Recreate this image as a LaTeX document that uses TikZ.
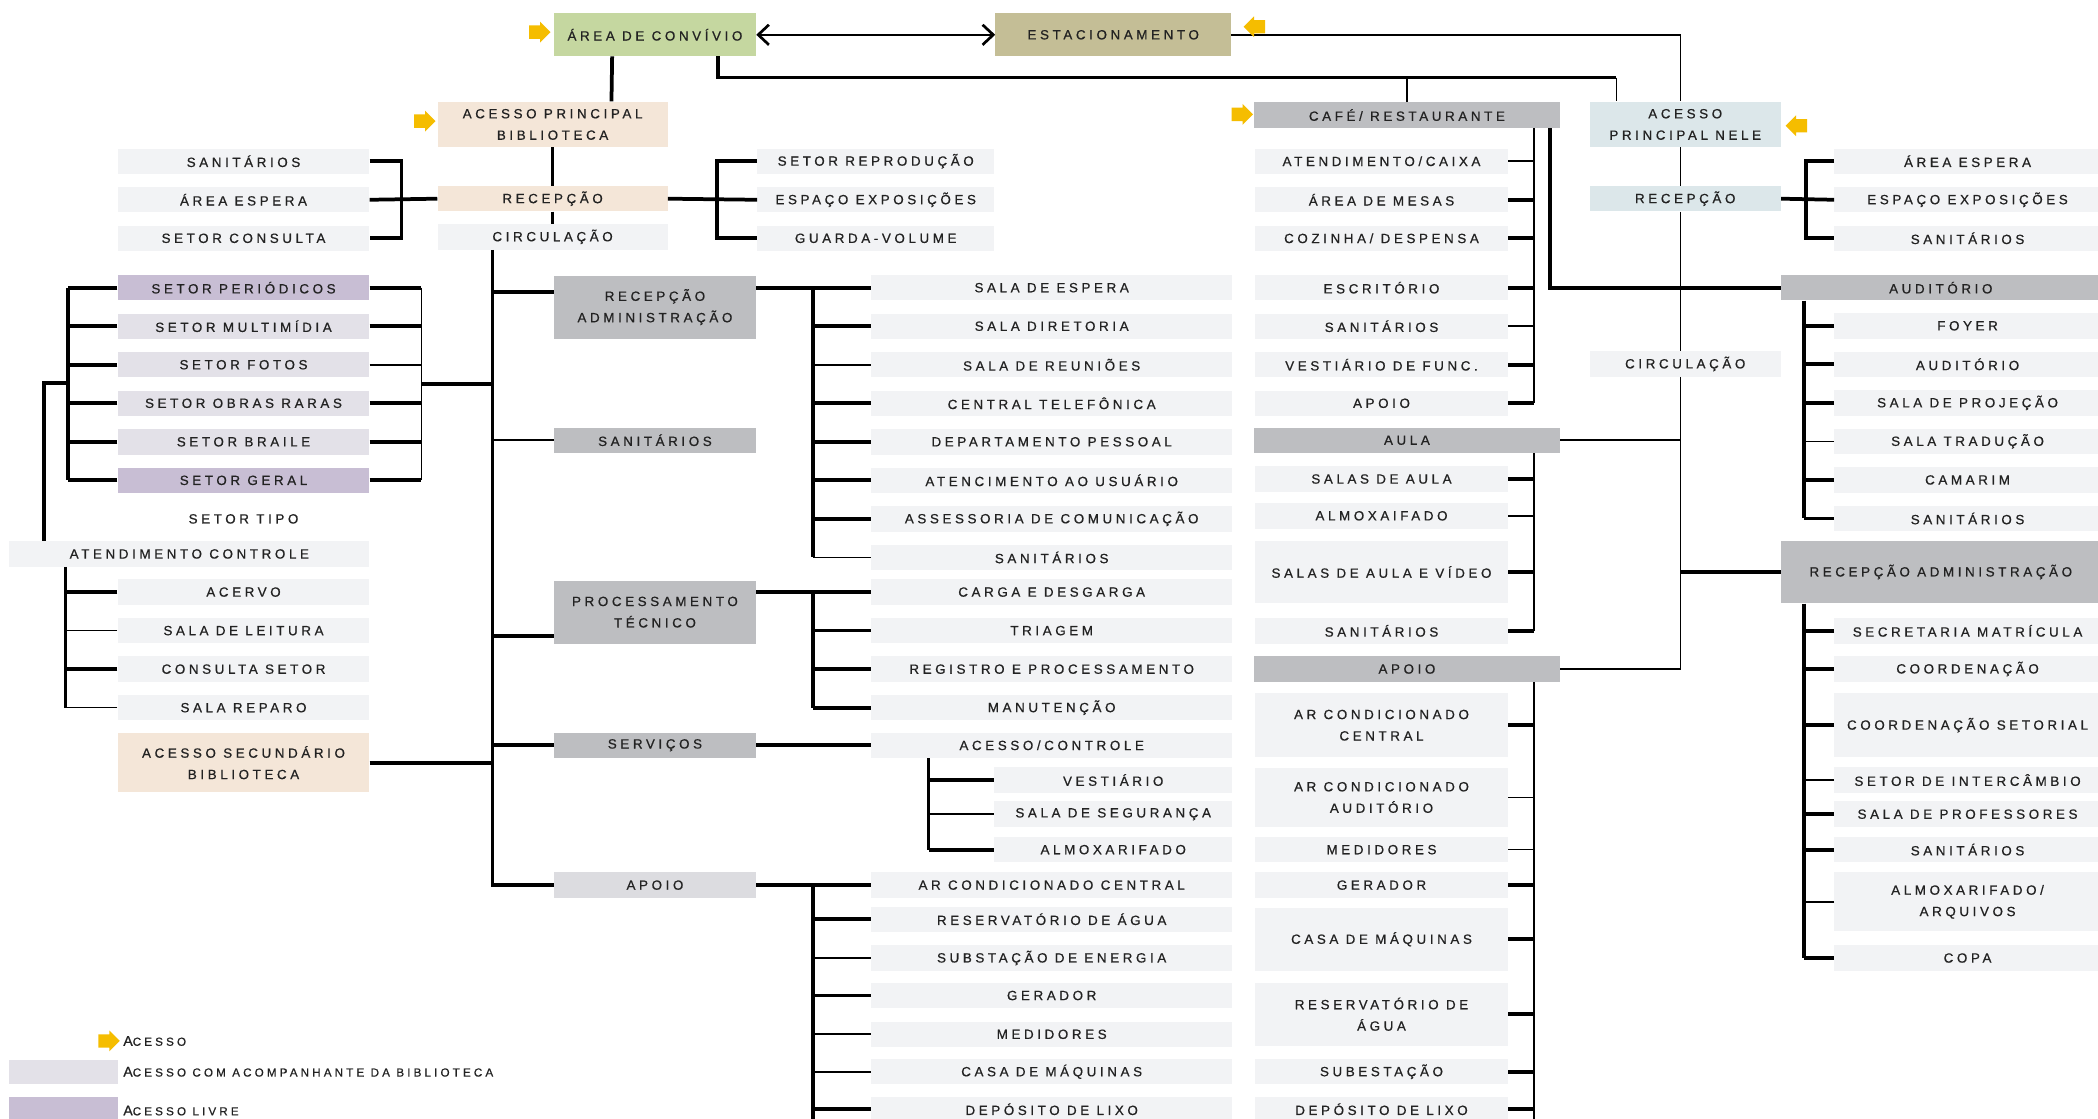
\documentclass[tikz,border=0pt]{standalone}
\usepackage{fontspec}
\setmainfont{Liberation Sans}[LetterSpace=27, FakeBold=0.7]
\usetikzlibrary{positioning,shapes.arrows,arrows.meta}
\definecolor{cgreen}{HTML}{C5D7A0}
\definecolor{ckhaki}{HTML}{C4BE96}
\definecolor{cpeach}{HTML}{F4E6D8}
\definecolor{clight}{HTML}{F2F3F5}
\definecolor{cgray}{HTML}{BDBEC1}
\definecolor{cblue}{HTML}{DCE7EA}
\definecolor{cpurple}{HTML}{C8BED4}
\definecolor{clav}{HTML}{E3E1E8}
\definecolor{cpale}{HTML}{DCDCE0}
\definecolor{cyel}{HTML}{F5BD00}
\definecolor{ctext}{HTML}{222222}
\newcommand{\legsc}[2]{{\fontsize{10.5}{10}\selectfont #1}{\fontsize{8.7}{10}\selectfont #2}}
\tikzset{
  bx/.style={rectangle, inner sep=0pt, minimum height=19pt, text centered, align=center, text=ctext, font=\fontsize{10}{16}\selectfont},
  lt/.style={bx, fill=clight},
  gr/.style={bx, fill=cgray},
  wlib/.style={minimum width=188pt},
  wmid/.style={minimum width=151pt},
  wwide/.style={minimum width=270pt},
  wcafe/.style={minimum width=189pt},
  wcafeh/.style={minimum width=229pt},
  wright/.style={minimum width=199pt},
  wrighth/.style={minimum width=239pt},
  wnele/.style={minimum width=143pt},
  wrep/.style={minimum width=177pt},
  wsub/.style={minimum width=178pt},
  tk/.style={line width=2.8pt},
  tn/.style={line width=1.2pt},
  acc/.style={single arrow, fill=cyel, inner sep=4.8pt, minimum height=16pt, single arrow head extend=2.8pt},
  accl/.style={acc, shape border rotate=180},
  legtxt/.style={anchor=west, inner sep=0pt, text=ctext},
  chev/.tip={Straight Barb[length=8pt,width=15pt,line width=2pt]},
  node distance=9.4pt
}
\begin{document}
\begin{tikzpicture}[x=1pt,y=-1pt]
	\fill[white] (0,0) rectangle (1568,836);
	\useasboundingbox (0,0) rectangle (1568,836);
	% top
	\node[bx, fill=cgreen, wmid, minimum height=32pt] (conv) at (489.5,26) {ÁREA DE CONVÍVIO};
	\node[bx, fill=ckhaki, minimum width=176pt, minimum height=32pt] (estac) at (832,26) {ESTACIONAMENTO};
	\node[bx, fill=cpeach, minimum width=172pt, minimum height=34pt] (acbib) at (413,93) {ACESSO PRINCIPAL\\BIBLIOTECA};
	\node[bx, fill=cpeach, minimum width=172pt] (recbib) at (413,148.5) {RECEPÇÃO};
	\node[lt, minimum width=172pt] (circbib) at (413,177) {CIRCULAÇÃO};
	\node[lt, wlib] (sanbib) at (182,120.5) {SANITÁRIOS};
	\node[lt, wlib, below=of sanbib] (espbib) {ÁREA ESPERA};
	\node[lt, wlib, below=of espbib] (consbib) {SETOR CONSULTA};
	\node[lt, wrep] (reprod) at (654.5,120.5) {SETOR REPRODUÇÃO};
	\node[lt, wrep, below=of reprod] (expos) {ESPAÇO EXPOSIÇÕES};
	\node[lt, wrep, below=of expos] (guarda) {GUARDA-VOLUME};
	% biblioteca
	\node[bx, wlib, fill=cpurple] (per) at (182,215) {SETOR PERIÓDICOS};
	\node[bx, wlib, fill=clav, below=of per] (mult) {SETOR MULTIMÍDIA};
	\node[bx, wlib, fill=clav, below=of mult] (fotos) {SETOR FOTOS};
	\node[bx, wlib, fill=clav, below=of fotos] (obras) {SETOR OBRAS RARAS};
	\node[bx, wlib, fill=clav, below=of obras] (braile) {SETOR BRAILE};
	\node[bx, wlib, fill=cpurple, below=of braile] (geral) {SETOR GERAL};
	\node[bx, wlib, below=of geral] (tipo) {SETOR TIPO};
	\node[lt, minimum width=269pt] (atend) at (141.5,414) {ATENDIMENTO CONTROLE};
	\node[lt, wlib] (acervo) at (182,442.5) {ACERVO};
	\node[lt, wlib, below=of acervo] (leitura) {SALA DE LEITURA};
	\node[lt, wlib, below=of leitura] (consetor) {CONSULTA SETOR};
	\node[lt, wlib, below=of consetor] (reparo) {SALA REPARO};
	\node[bx, wlib, fill=cpeach, minimum height=44pt] (acsec) at (182,570) {ACESSO SECUNDÁRIO\\BIBLIOTECA};
	% meio
	\node[gr, wmid, minimum height=47pt] (recadm) at (489.5,229.5) {RECEPÇÃO\\ADMINISTRAÇÃO};
	\node[gr, wmid] (sanmid) at (489.5,329) {SANITÁRIOS};
	\node[gr, wmid, minimum height=47pt] (proc) at (489.5,457.5) {PROCESSAMENTO\\TÉCNICO};
	\node[gr, wmid] (serv) at (489.5,557) {SERVIÇOS};
	\node[bx, wmid, fill=cpale] (apoiomid) at (489.5,661.5) {APOIO};
	\node[lt, wwide] (espera) at (786,215) {SALA DE ESPERA};
	\node[lt, wwide, below=of espera] (diret) {SALA DIRETORIA};
	\node[lt, wwide, below=of diret] (reun) {SALA DE REUNIÕES};
	\node[lt, wwide, below=of reun] (telef) {CENTRAL TELEFÔNICA};
	\node[lt, wwide, below=of telef] (pessoal) {DEPARTAMENTO PESSOAL};
	\node[lt, wwide, below=of pessoal] (usuario) {ATENCIMENTO AO USUÁRIO};
	\node[lt, wwide, below=of usuario] (assess) {ASSESSORIA DE COMUNICAÇÃO};
	\node[lt, wwide, below=of assess] (sanadm) {SANITÁRIOS};
	\node[lt, wwide] (carga) at (786,442.5) {CARGA E DESGARGA};
	\node[lt, wwide, below=of carga] (triagem) {TRIAGEM};
	\node[lt, wwide, below=of triagem] (registro) {REGISTRO E PROCESSAMENTO};
	\node[lt, wwide, below=of registro] (manut) {MANUTENÇÃO};
	\node[lt, wwide] (acctrl) at (786,557) {ACESSO/CONTROLE};
	\node[lt, wsub] (vest) at (832,583) {VESTIÁRIO};
	\node[lt, wsub] (seg) at (832,608.5) {SALA DE SEGURANÇA};
	\node[lt, wsub] (almox) at (832,635) {ALMOXARIFADO};
	\node[lt, wwide] (arcond) at (786,661.5) {AR CONDICIONADO CENTRAL};
	\node[lt, wwide] (reservmid) at (786,687) {RESERVATÓRIO DE ÁGUA};
	\node[lt, wwide] (subst) at (786,716) {SUBSTAÇÃO DE ENERGIA};
	\node[lt, wwide] (geradmid) at (786,744) {GERADOR};
	\node[lt, wwide] (medidmid) at (786,773) {MEDIDORES};
	\node[lt, wwide] (casamid) at (786,801) {CASA DE MÁQUINAS};
	\node[lt, wwide] (depmid) at (786,829) {DEPÓSITO DE LIXO};
	% cafe
	\node[gr, wcafeh] (cafe) at (1051.5,86) {CAFÉ/ RESTAURANTE};
	\node[lt, wcafe] (atcaixa) at (1032.5,120.5) {ATENDIMENTO/CAIXA};
	\node[lt, wcafe, below=of atcaixa] (mesas) {ÁREA DE MESAS};
	\node[lt, wcafe, below=of mesas] (cozinha) {COZINHA/ DESPENSA};
	\node[lt, wcafe] (escrit) at (1032.5,215) {ESCRITÓRIO};
	\node[lt, wcafe, below=of escrit] (sancafe) {SANITÁRIOS};
	\node[lt, wcafe, below=of sancafe] (vestfunc) {VESTIÁRIO DE FUNC.};
	\node[lt, wcafe, below=of vestfunc] (apoiocafe) {APOIO};
	\node[gr, wcafeh] (aula) at (1051.5,329) {AULA};
	\node[lt, wcafe] (salas) at (1032.5,358) {SALAS DE AULA};
	\node[lt, wcafe] (almoxa) at (1032.5,385.5) {ALMOXAIFADO};
	\node[lt, wcafe, minimum height=47pt] (salasvid) at (1032.5,427.5) {SALAS DE AULA E VÍDEO};
	\node[lt, wcafe] (sancafe2) at (1032.5,471.5) {SANITÁRIOS};
	\node[gr, wcafeh] (apoio2) at (1051.5,500) {APOIO};
	\node[lt, wcafe, minimum height=48pt] (arcc) at (1032.5,542) {AR CONDICIONADO\\CENTRAL};
	\node[lt, wcafe, minimum height=44pt] (arca) at (1032.5,596) {AR CONDICIONADO\\AUDITÓRIO};
	\node[lt, wcafe] (medc) at (1032.5,635) {MEDIDORES};
	\node[lt, wcafe] (gerc) at (1032.5,661.5) {GERADOR};
	\node[lt, wcafe, minimum height=47pt] (casac) at (1032.5,702) {CASA DE MÁQUINAS};
	\node[lt, wcafe, minimum height=47pt] (resc) at (1032.5,758) {RESERVATÓRIO DE\\ÁGUA};
	\node[lt, wcafe] (subc) at (1032.5,801) {SUBESTAÇÃO};
	\node[lt, wcafe] (depc) at (1032.5,829) {DEPÓSITO DE LIXO};
	% nele
	\node[bx, wnele, fill=cblue, minimum height=34pt] (acnele) at (1259.5,93) {ACESSO\\PRINCIPAL NELE};
	\node[bx, wnele, fill=cblue] (recnele) at (1259.5,148.5) {RECEPÇÃO};
	\node[lt, wnele] (circnele) at (1259.5,272) {CIRCULAÇÃO};
	\node[lt, wright] (espnele) at (1470.5,120.5) {ÁREA ESPERA};
	\node[lt, wright, below=of espnele] (exponele) {ESPAÇO EXPOSIÇÕES};
	\node[lt, wright, below=of exponele] (sannele) {SANITÁRIOS};
	\node[gr, wrighth] (aud) at (1450.5,215) {AUDITÓRIO};
	\node[lt, wright] (foyer) at (1470.5,243.5) {FOYER};
	\node[lt, wright, below=of foyer] (auditorio) {AUDITÓRIO};
	\node[lt, wright, below=of auditorio] (projecao) {SALA DE PROJEÇÃO};
	\node[lt, wright, below=of projecao] (traducao) {SALA TRADUÇÃO};
	\node[lt, wright, below=of traducao] (camarim) {CAMARIM};
	\node[lt, wright, below=of camarim] (sanaud) {SANITÁRIOS};
	\node[gr, wrighth, minimum height=47pt] (recadm2) at (1450.5,427.5) {RECEPÇÃO ADMINISTRAÇÃO};
	\node[lt, wright] (secret) at (1470.5,471.5) {SECRETARIA MATRÍCULA};
	\node[lt, wright] (coord) at (1470.5,500) {COORDENAÇÃO};
	\node[lt, wright, minimum height=48pt] (coordset) at (1470.5,542) {COORDENAÇÃO SETORIAL};
	\node[lt, wright] (interc) at (1470.5,583) {SETOR DE INTERCÂMBIO};
	\node[lt, wright] (prof) at (1470.5,608.5) {SALA DE PROFESSORES};
	\node[lt, wright] (sanr) at (1470.5,635) {SANITÁRIOS};
	\node[lt, wright, minimum height=44pt] (almarq) at (1470.5,674) {ALMOXARIFADO/\\ARQUIVOS};
	\node[lt, wright] (copa) at (1470.5,716) {COPA};
	% legenda
	\node[bx, fill=clav, minimum width=81pt, minimum height=18pt] (legbox1) at (47.5,801) {};
	\node[bx, fill=cpurple, minimum width=81pt, minimum height=18pt] (legbox2) at (47.5,829) {};
	\node[legtxt] (legacctxt) at (92,778) {\legsc{A}{CESSO}};
	\node[legtxt] (leg1) at (92,801) {\legsc{A}{CESSO COM ACOMPANHANTE DA BIBLIOTECA}};
	\node[legtxt] (leg2) at (92,830) {\legsc{A}{CESSO LIVRE}};
	%
	\coordinate (busLb) at (300,0);
	\coordinate (busRe) at (536,0);
	\coordinate (trunk) at (368,0);
	\coordinate (busL) at (51,0);
	\coordinate (busLL) at (33,0);
	\coordinate (busR) at (315,0);
	\coordinate (busA) at (49,0);
	\coordinate (busM) at (607.5,0);
	\coordinate (busS) at (694,0);
	\coordinate (busC) at (1146.5,0);
	\coordinate (busCc) at (1158.5,0);
	\coordinate (busN) at (1256,0);
	\coordinate (busRt) at (1350,0);
	\coordinate (busRa) at (1348.5,0);
	\coordinate (jtop) at (1208,58);
	\coordinate (jlib) at (315,287);
	\coordinate (jlk) at (51,286);
	% ligacoes topo
	\draw[tn, chev-chev] (conv.east) -- (estac.west);
	\draw[tn] (estac.east) -| (busN |- acnele.north);
	\draw[tk] ([xshift=47pt]conv.south) |- (jtop);
	\draw[tn] (jtop) -- (jtop |- acnele.north);
	\draw[tn] (cafe.north) -- (cafe.north |- jtop);
	\draw[tk] ([xshift=-32pt]conv.south) -- ([xshift=44pt]acbib.north);
	\draw[tk] (acbib.south) -- (recbib.north);
	\draw[tk] (recbib.south) -- (circbib.north);
	\draw[tk] (sanbib.east) -| (busLb |- consbib.east) -- (consbib.east);
	\draw[tk] (recbib.west) -- (espbib.east);
	\draw[tk] (reprod.west) -| (busRe |- guarda.west) -- (guarda.west);
	\draw[tk] (recbib.east) -- (expos.west);
	% circulacao biblioteca
	\draw[tk] (trunk |- circbib.south) |- (apoiomid.west);
	\draw[tk] ([yshift=11pt]recadm.west) -- +(-46,0);
	\draw[tn] (sanmid.west) -- (trunk |- sanmid.west);
	\draw[tk] ([yshift=-18pt]proc.west) -- +(-46,0);
	\draw[tk] (serv.west) -- (trunk |- serv.west);
	\draw[tk] (acsec.east) -- (trunk |- acsec.east);
	\draw[tk] (jlib) -- (trunk |- jlib);
	% setores
	\draw[tn] (busR |- per.east) -- (busR |- geral.east);
	\foreach \n in {per,mult,obras,braile,geral} \draw[tk] (\n.east) -- (busR |- \n.east);
	\draw[tn] (fotos.east) -- (busR |- fotos.east);
	\draw[tk] (busL |- per.west) -- (busL |- geral.west);
	\foreach \n in {per,mult,fotos,obras,braile,geral} \draw[tk] (\n.west) -- (busL |- \n.west);
	\draw[tk] (jlk) -| (busLL |- atend.north);
	\draw[tk] (busA |- atend.south) -- (busA |- reparo.west);
	\foreach \n in {acervo,consetor} \draw[tk] (\n.west) -- (busA |- \n.west);
	\foreach \n in {leitura,reparo} \draw[tn] (\n.west) -- (busA |- \n.west);
	% administracao, processamento, servicos, apoio
	\draw[tk] (espera.west) -- (espera.west -| recadm.east);
	\draw[tk] (busM |- espera.west) -- (busM |- sanadm.west);
	\foreach \n in {diret,telef,pessoal,usuario,assess} \draw[tk] (\n.west) -- (busM |- \n.west);
	\foreach \n in {reun,sanadm} \draw[tn] (\n.west) -- (busM |- \n.west);
	\draw[tk] (carga.west) -- (carga.west -| proc.east);
	\draw[tk] (busM |- carga.west) -- (busM |- manut.west);
	\foreach \n in {triagem,registro,manut} \draw[tk] (\n.west) -- (busM |- \n.west);
	\draw[tk] (serv.east) -- (acctrl.west);
	\draw[tk] (busS |- acctrl.south) -- (busS |- almox.west);
	\foreach \n in {vest,almox} \draw[tk] (\n.west) -- (busS |- \n.west);
	\draw[tn] (seg.west) -- (busS |- seg.west);
	\draw[tk] (apoiomid.east) -- (arcond.west);
	\draw[tk] (busM |- arcond.west) -- (busM |- depmid.south);
	\foreach \n in {reservmid,geradmid,depmid} \draw[tk] (\n.west) -- (busM |- \n.west);
	\foreach \n in {subst,medidmid,casamid} \draw[tn] (\n.west) -- (busM |- \n.west);
	% cafe e aula
	\draw[tn] (busC |- cafe.south) -- (busC |- apoiocafe.east);
	\foreach \n in {mesas,cozinha,escrit,vestfunc,apoiocafe} \draw[tk] (\n.east) -- (busC |- \n.east);
	\foreach \n in {atcaixa,sancafe} \draw[tn] (\n.east) -- (busC |- \n.east);
	\draw[tk] (busCc |- cafe.south) |- (aud.west);
	\draw[tn] (aula.east) -- (busN |- aula.east);
	\draw[tn] (busC |- aula.south) -- (busC |- sancafe2.east);
	\foreach \n in {salas,salasvid,sancafe2} \draw[tk] (\n.east) -- (busC |- \n.east);
	\draw[tn] (almoxa.east) -- (busC |- almoxa.east);
	\draw[tn] (busC |- apoio2.south) -- (busC |- depc.south);
	\foreach \n in {arcc,gerc,casac,resc,subc,depc} \draw[tk] (\n.east) -- (busC |- \n.east);
	\foreach \n in {arca,medc} \draw[tn] (\n.east) -- (busC |- \n.east);
	% nele
	\draw[tn] (busN |- acnele.south) -- (busN |- recnele.north);
	\draw[tn] (busN |- recnele.south) -- (busN |- circnele.north);
	\draw[tn] (busN |- circnele.south) |- (apoio2.east);
	\draw[tk] (recadm2.west) -- (busN |- recadm2.west);
	\draw[tk] (espnele.west) -| (busRt |- sannele.west) -- (sannele.west);
	\draw[tk] (recnele.east) -- (exponele.west);
	\draw[tk] (busRa |- aud.south) -- (busRa |- sanaud.west);
	\foreach \n in {foyer,auditorio,projecao,camarim,sanaud} \draw[tk] (\n.west) -- (busRa |- \n.west);
	\draw[tn] (traducao.west) -- (busRa |- traducao.west);
	\draw[tk] (busRa |- recadm2.south) -- (busRa |- copa.west);
	\foreach \n in {secret,coord,coordset,prof,sanr,copa} \draw[tk] (\n.west) -- (busRa |- \n.west);
	\foreach \n in {interc,almarq} \draw[tn] (\n.west) -- (busRa |- \n.west);
	% acessos
	\node[acc] (accconv) at (401,24) {};
	\node[acc] (accbib) at (315,90.5) {};
	\node[accl] (accest) at (940,20) {};
	\node[acc] (acccafe) at (926,85.5) {};
	\node[accl] (accnele) at (1345,94) {};
	\node[acc] (legacc) at (79,778) {};
\end{tikzpicture}
\end{document}
